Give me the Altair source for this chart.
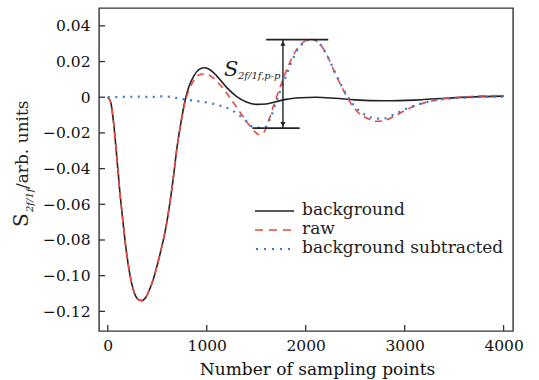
import altair as alt
import pandas as pd

# ---------------- data ----------------
bg_x = [0, 30, 60, 90, 120, 150, 180, 210, 240, 270, 300, 340, 380, 420, 460, 500, 540, 580,
        620, 660, 700, 740, 780, 820, 870, 920, 970, 1020, 1100, 1200, 1300, 1400, 1500,
        1600, 1700, 1800, 1950, 2100, 2300, 2500, 2800, 3100, 3400, 3700, 4000]
bg_y = [0.0, -0.003, -0.015, -0.033, -0.052, -0.068, -0.083, -0.095, -0.104, -0.110, -0.113,
        -0.114, -0.1125, -0.108, -0.102, -0.094, -0.085, -0.075, -0.062, -0.046, -0.028,
        -0.014, -0.002, 0.006, 0.012, 0.0155, 0.0165, 0.0158, 0.012, 0.0055, 0.0005, -0.0027,
        -0.004, -0.0038, -0.0025, -0.0012, -0.0003, 0.0, -0.0006, -0.0015, -0.002, -0.0016,
        -0.0006, 0.0002, 0.0006]

raw_x = [0, 30, 60, 90, 120, 150, 180, 210, 240, 270, 300, 340, 380, 420, 460, 500, 540, 580,
         620, 660, 700, 740, 780, 820, 870, 920, 980, 1050, 1150, 1250, 1350, 1450, 1530,
         1580, 1620, 1680, 1750, 1820, 1900, 1980, 2060, 2140, 2220, 2300, 2380, 2440, 2520,
         2620, 2720, 2800, 2900, 3000, 3150, 3300, 3500, 3700, 4000]
raw_y = [0.0, -0.003, -0.015, -0.033, -0.052, -0.068, -0.083, -0.095, -0.104, -0.110, -0.113,
         -0.114, -0.1125, -0.108, -0.102, -0.094, -0.085, -0.075, -0.062, -0.046, -0.028,
         -0.014, -0.003, 0.004, 0.0095, 0.0125, 0.013, 0.0115, 0.006, -0.0015, -0.0095,
         -0.017, -0.021, -0.0195, -0.014, -0.004, 0.007, 0.017, 0.026, 0.031, 0.0325, 0.030,
         0.023, 0.013, 0.004, -0.002, -0.008, -0.0118, -0.0135, -0.013, -0.0105, -0.0075,
         -0.004, -0.0018, -0.0002, 0.0005, 0.001]

sub_x = [0, 150, 300, 450, 560, 650, 750, 850, 950, 1050, 1150, 1250, 1350, 1420, 1470, 1530,
         1590, 1640, 1700, 1760, 1830, 1900, 1980, 2060, 2140, 2220, 2300, 2380, 2440, 2520,
         2620, 2720, 2800, 2900, 3000, 3150, 3300, 3500, 3700, 4000]
sub_y = [0.0, 0.0002, 0.0003, 0.0002, 0.0005, 0.0, -0.001, -0.0018, -0.0025, -0.0035, -0.005,
         -0.0072, -0.011, -0.0145, -0.0168, -0.017, -0.0168, -0.012, -0.003, 0.006, 0.016,
         0.025, 0.0305, 0.0325, 0.030, 0.023, 0.0135, 0.0045, -0.001, -0.0065, -0.0105,
         -0.012, -0.0118, -0.0095, -0.0068, -0.0038, -0.0018, -0.0006, 0.0, 0.0003]

series_names = ["background", "raw", "background subtracted"]
x_ticks = [0, 1000, 2000, 3000, 4000]
y_ticks = [0.04, 0.02, 0.0, -0.02, -0.04, -0.06, -0.08, -0.10, -0.12]

# peak-to-peak annotation (data units)
pp_top_y = 0.0323
pp_bot_y = -0.0173
pp_top_x = [1600, 2228]
pp_bot_x = [1462, 1939]
pp_arrow_x = 1770

x_title = "Number of sampling points"
y_title_main = "S"
y_title_sub = "2f/1f"
y_title_rest = "/arb. units"
ann_main = "S"
ann_sub = "2f/1f,p-p"

# ---------------- styling ----------------
FONT = "DejaVu Serif"
W, H = 414, 323
BLACK = "#222222"
RED = "#ec4a3e"
BLUE = "#3f73d6"

xs = alt.Scale(domain=[-89, 4095], nice=False, zero=False)
ys = alt.Scale(domain=[-0.131, 0.050], nice=False, zero=False)

x_axis = alt.Axis(values=x_ticks, format="d", ticks=False, domain=False, grid=False,
                  labelFont=FONT, labelFontSize=15.5, labelColor="#111111", labelPadding=7,
                  title=x_title, titleFont=FONT, titleFontSize=17, titleFontWeight="normal",
                  titleColor="#111111", titleX=218, titleY=43, titleBaseline="alphabetic",
                  titleAlign="center")
y_axis = alt.Axis(values=y_ticks, ticks=False, domain=False, grid=False,
                  labelFont=FONT, labelFontSize=15.5, labelColor="#111111", labelPadding=9,
                  labelExpr="datum.value == 0 ? '0' : format(datum.value, '.2f')",
                  title="")


def X(f):
    return alt.X(f, type="quantitative", scale=xs, axis=x_axis)


def Y(f):
    return alt.Y(f, type="quantitative", scale=ys, axis=y_axis)


bg_df = pd.DataFrame({"x": bg_x, "y": bg_y})
raw_df = pd.DataFrame({"x": raw_x, "y": raw_y})
sub_df = pd.DataFrame({"x": sub_x, "y": sub_y})

bg_line = alt.Chart(bg_df).mark_line(color=BLACK, strokeWidth=1.6, interpolate="monotone").encode(
    x=X("x"), y=Y("y"))
raw_line = alt.Chart(raw_df).mark_line(color=RED, strokeWidth=1.6, strokeDash=[7, 5],
                                       interpolate="monotone").encode(x=X("x"), y=Y("y"))
sub_line = alt.Chart(sub_df).mark_line(color=BLUE, strokeWidth=2.2, strokeDash=[2, 5.5],
                                       interpolate="monotone").encode(x=X("x"), y=Y("y"))

# inward ticks
xt = alt.Chart(pd.DataFrame({"x": x_ticks})).mark_rule(color="#333333", strokeWidth=1.3).encode(
    x=X("x"), y=alt.value(H), y2=alt.value(H - 6))
yt = alt.Chart(pd.DataFrame({"y": y_ticks})).mark_rule(color="#333333", strokeWidth=1.3).encode(
    y=Y("y"), x=alt.value(0), x2=alt.value(6))

# annotation
hl = pd.DataFrame({"x": [pp_top_x[0], pp_bot_x[0]], "x2": [pp_top_x[1], pp_bot_x[1]],
                   "y": [pp_top_y, pp_bot_y]})
hlines = alt.Chart(hl).mark_rule(color=BLACK, strokeWidth=1.6).encode(
    x=X("x"), x2="x2:Q", y=Y("y"))
vl = pd.DataFrame({"x": [pp_arrow_x], "y": [pp_bot_y], "y2": [pp_top_y]})
vline = alt.Chart(vl).mark_rule(color=BLACK, strokeWidth=1.4).encode(x=X("x"), y=Y("y"), y2="y2:Q")
ah = pd.DataFrame({"x": [pp_arrow_x], "y": [pp_top_y - 0.0022]})
arrow_up = alt.Chart(ah).mark_point(shape="triangle-up", filled=True, size=28, color=BLACK,
                                    opacity=1).encode(x=X("x"), y=Y("y"))
ad = pd.DataFrame({"x": [pp_arrow_x], "y": [pp_bot_y + 0.0022]})
arrow_dn = alt.Chart(ad).mark_point(shape="triangle-down", filled=True, size=28, color=BLACK,
                                    opacity=1).encode(x=X("x"), y=Y("y"))

ann1 = alt.Chart(pd.DataFrame({"t": [ann_main]})).mark_text(
    font=FONT, fontSize=21, fontStyle="italic", align="left", baseline="alphabetic",
    color=BLACK).encode(x=alt.value(125), y=alt.value(68), text="t:N")
ann2 = alt.Chart(pd.DataFrame({"t": [ann_sub]})).mark_text(
    font=FONT, fontSize=10, fontStyle="italic", align="left", baseline="alphabetic",
    color=BLACK).encode(x=alt.value(139), y=alt.value(71), text="t:N")

# y title (rotated pieces)
yt1 = alt.Chart(pd.DataFrame({"t": [y_title_main]})).mark_text(
    font=FONT, fontSize=20, angle=270, align="left", baseline="alphabetic", color=BLACK).encode(
    x=alt.value(-71), y=alt.value(219), text="t:N")
yt2 = alt.Chart(pd.DataFrame({"t": [y_title_sub]})).mark_text(
    font=FONT, fontSize=10, fontStyle="italic", angle=270, align="left", baseline="alphabetic",
    color=BLACK).encode(x=alt.value(-66), y=alt.value(204), text="t:N")
yt3 = alt.Chart(pd.DataFrame({"t": [y_title_rest]})).mark_text(
    font=FONT, fontSize=17, angle=270, align="left", baseline="alphabetic", color=BLACK).encode(
    x=alt.value(-71), y=alt.value(181), text="t:N")

# legend (manual)
leg_rows = [203, 222, 241]
leg_bg = alt.Chart(pd.DataFrame({"a": [0]})).mark_rule(color=BLACK, strokeWidth=1.5).encode(
    x=alt.value(156), x2=alt.value(195), y=alt.value(leg_rows[0]))
leg_raw = alt.Chart(pd.DataFrame({"a": [0]})).mark_rule(color=RED, strokeWidth=1.6,
                                                        strokeDash=[8, 6]).encode(
    x=alt.value(156), x2=alt.value(195), y=alt.value(leg_rows[1]))
leg_sub = alt.Chart(pd.DataFrame({"a": [0]})).mark_rule(color=BLUE, strokeWidth=2.2,
                                                        strokeDash=[2, 6]).encode(
    x=alt.value(157), x2=alt.value(195), y=alt.value(leg_rows[2]))
leg_txt = [
    alt.Chart(pd.DataFrame({"t": [name]})).mark_text(
        font=FONT, fontSize=17, align="left", baseline="middle", color=BLACK).encode(
        x=alt.value(203), y=alt.value(row - 1), text="t:N")
    for name, row in zip(series_names, leg_rows)
]

chart = alt.layer(
    bg_line, raw_line, sub_line, xt, yt, hlines, vline, arrow_up, arrow_dn, ann1, ann2,
    yt1, yt2, yt3, leg_bg, leg_raw, leg_sub, *leg_txt
).properties(
    width=W, height=H,
    autosize=alt.AutoSizeParams(type="none"),
    padding={"left": 99, "top": 8, "right": 26, "bottom": 49},
    background="white",
).configure_view(stroke="#333333", strokeWidth=1.4)

chart.save("out.html", embed_options={"renderer": "svg", "actions": False})
